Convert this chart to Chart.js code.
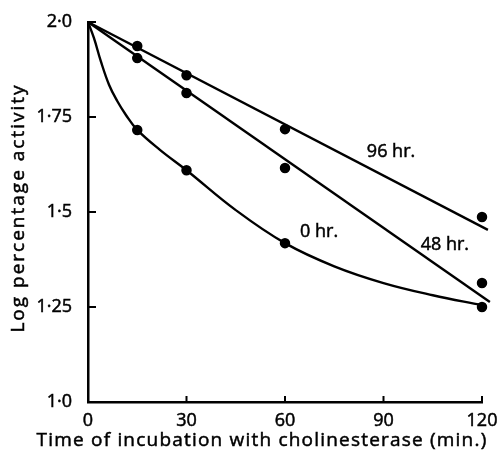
<!DOCTYPE html>
<html>
<head>
<meta charset="utf-8">
<script src="https://cdn.jsdelivr.net/npm/chart.js@4"></script>
<style>
  body { margin: 0; background: #fff; }
  #wrap { width: 497px; height: 454px; }
</style>
</head>
<body>
<div id="wrap"><canvas id="c"></canvas></div>
<script>
// measured points (log % activity) at each incubation time
var times = [15, 30, 60, 120]
var hr0 = [1.716, 1.61, 1.418, 1.25]
var hr48 = [1.905, 1.813, 1.616, 1.313]
var hr96 = [1.937, 1.86, 1.718, 1.487]

// fitted lines
var fit96 = [{ x: 0, y: 2.0 }, { x: 121.8, y: 1.453 }]
var fit48 = [{ x: 0, y: 2.0 }, { x: 122.4, y: 1.263 }]
var curveT = [0, 1.8, 3.9, 6.4, 8.9, 11.5, 15, 22, 30, 45, 60, 75, 90, 105, 120]
var curve0 = [2.0, 1.958, 1.897, 1.835, 1.792, 1.756, 1.716, 1.663, 1.61, 1.505, 1.418, 1.357, 1.313, 1.281, 1.255]

var xTicks = [0, 30, 60, 90, 120]
var yTickValues = [1.0, 1.25, 1.5, 1.75, 2.0]
var yTickLabels = ['1·0', '1·25', '1·5', '1·75', '2·0']

var curveLabels = [
	{ text: '96 hr.', x: 92.3, y: 1.658 },
	{ text: '48 hr.', x: 108.7, y: 1.413 },
	{ text: '0 hr.', x: 70.4, y: 1.447 },
]

var xTitle = 'Time of incubation with cholinesterase (min.)'
var yTitle = 'Log percentage activity'

var FONT = '"Open Sans", sans-serif'

function pts(xs, ys) {
	var out = []
	for (var i = 0; i < xs.length; i++) out.push({ x: xs[i], y: ys[i] })
	return out
}

function lineSet(data, tension) {
	return {
		type: 'line', data: data, borderColor: '#000', borderWidth: 2.4,
		pointRadius: 0, fill: false, clip: false, tension: tension,
	}
}

function dotSet(data) {
	return {
		type: 'scatter', data: data, backgroundColor: '#000',
		borderColor: '#fff', borderWidth: 1.5, pointRadius: 6, pointHoverRadius: 6, clip: false,
	}
}

// inward tick marks, curve labels and axis titles
var decor = {
	id: 'decor',
	afterDatasetsDraw: function (chart) {
		var ctx = chart.ctx
		var xs = chart.scales.x, ys = chart.scales.y
		var a = chart.chartArea
		ctx.save()
		ctx.strokeStyle = '#000'
		ctx.lineWidth = 2
		ctx.beginPath()
		yTickValues.forEach(function (v) {
			var py = ys.getPixelForValue(v)
			ctx.moveTo(a.left, py); ctx.lineTo(a.left + 8, py)
		})
		xTicks.forEach(function (v) {
			var px = xs.getPixelForValue(v)
			ctx.moveTo(px, a.bottom); ctx.lineTo(px, a.bottom - 6)
		})
		ctx.stroke()
		ctx.fillStyle = '#000'
		ctx.lineWidth = 0.5
		ctx.textAlign = 'center'
		ctx.textBaseline = 'middle'
		ctx.font = '18px ' + FONT
		curveLabels.forEach(function (l) {
			var px = xs.getPixelForValue(l.x), py = ys.getPixelForValue(l.y)
			ctx.fillText(l.text, px, py)
			ctx.strokeText(l.text, px, py)
		})
		ctx.font = '19px ' + FONT
		ctx.letterSpacing = '1.2px'
		ctx.fillText(xTitle, 262, 441)
		ctx.strokeText(xTitle, 262, 441)
		ctx.letterSpacing = '2px'
		ctx.translate(19, (a.top + a.bottom) / 2 - 4)
		ctx.rotate(-Math.PI / 2)
		ctx.fillText(yTitle, 0, 0)
		ctx.strokeText(yTitle, 0, 0)
		ctx.restore()
	},
}

function noOverflow(s) {
	s.paddingLeft = 0; s.paddingRight = 0; s.paddingTop = 0; s.paddingBottom = 0
}

new Chart(document.getElementById('c'), {
	data: {
		datasets: [
			lineSet(fit96, 0),
			lineSet(fit48, 0),
			lineSet(pts(curveT, curve0), 0.4),
			dotSet(pts(times, hr96)),
			dotSet(pts(times, hr48)),
			dotSet(pts(times, hr0)),
		],
	},
	options: {
		responsive: true,
		maintainAspectRatio: false,
		animation: false,
		events: [],
		layout: { padding: { top: 22, right: 15, left: 0, bottom: 0 } },
		plugins: { legend: { display: false }, tooltip: { enabled: false } },
		scales: {
			x: {
				type: 'linear', min: 0, max: 120,
				grid: { display: false, drawTicks: false },
				border: { display: true, color: '#000', width: 2.5 },
				afterBuildTicks: function (s) { s.ticks = xTicks.map(function (v) { return { value: v } }) },
				afterFit: function (s) { s.height = 52; noOverflow(s) },
				ticks: {
					color: '#000', padding: 8, maxRotation: 0, font: { family: FONT, size: 18 },
					textStrokeColor: '#000', textStrokeWidth: 0.5,
				},
			},
			y: {
				type: 'linear', min: 1.0, max: 2.0,
				grid: { display: false, drawTicks: false },
				border: { display: true, color: '#000', width: 2.5 },
				afterBuildTicks: function (s) { s.ticks = yTickValues.map(function (v) { return { value: v } }) },
				afterFit: function (s) { s.width = 88; noOverflow(s) },
				ticks: {
					color: '#000', padding: 16, font: { family: FONT, size: 18 },
					textStrokeColor: '#000', textStrokeWidth: 0.5,
					callback: function (v) { return yTickLabels[yTickValues.indexOf(v)] },
				},
			},
		},
	},
	plugins: [decor],
})
</script>
</body>
</html>
